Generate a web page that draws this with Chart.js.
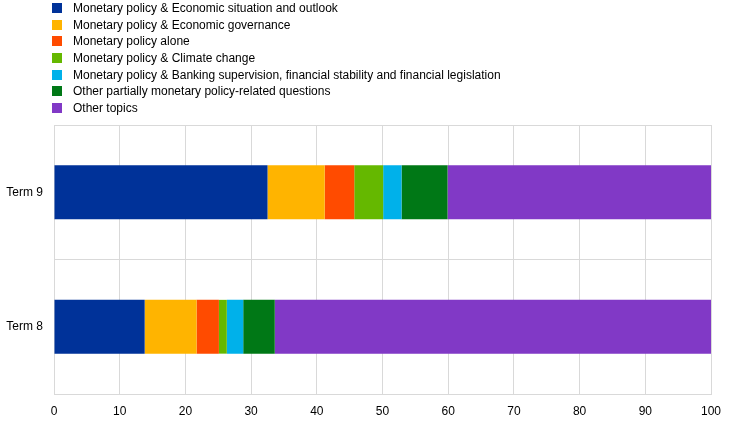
<!DOCTYPE html>
<html lang="en">
<head>
    <meta charset="UTF-8">
    <title>Topics of questions by term</title>
    <script src="https://cdn.jsdelivr.net/npm/chart.js@4/dist/chart.umd.min.js"></script>
    <style>
        body { margin: 0; background: #fff; font-family: "Liberation Sans", Arial, sans-serif; }
        #wrap { position: relative; width: 745px; height: 422px; }
        #legend { position: absolute; left: 52px; top: 0; margin: 0; padding: 0; list-style: none; font-size: 12px; color: #000; }
        #legend li { height: 16.67px; line-height: 16.67px; white-space: nowrap; position: relative; padding-left: 21px; }
        #legend span { position: absolute; left: 0; top: 3px; width: 10px; height: 10px; }
    </style>
</head>
<body>
    <div id="wrap">
        <canvas id="chart" width="745" height="422"></canvas>
        <ul id="legend"></ul>
    </div>

    <script>
        var terms = ['Term 9', 'Term 8'];
        var topics = [
            'Monetary policy & Economic situation and outlook',
            'Monetary policy & Economic governance',
            'Monetary policy alone',
            'Monetary policy & Climate change',
            'Monetary policy & Banking supervision, financial stability and financial legislation',
            'Other partially monetary policy-related questions',
            'Other topics'
        ];
        // shares in %, [Term 9, Term 8]
        var econSituation = [32.5, 13.8];
        var econGovernance = [8.7, 7.9];
        var mpAlone = [4.5, 3.4];
        var climate = [4.4, 1.2];
        var banking = [2.8, 2.5];
        var otherPartial = [7.0, 4.8];
        var otherTopics = [40.1, 66.4];
        var colors = ['#003299', '#ffb400', '#ff4b00', '#65b800', '#00b1ea', '#007816', '#8139c6'];
        var xTicks = [0, 10, 20, 30, 40, 50, 60, 70, 80, 90, 100];

        var series = [econSituation, econGovernance, mpAlone, climate, banking, otherPartial, otherTopics];
        var datasets = series.map(function (vals, i) {
            return {
                label: topics[i],
                data: vals,
                backgroundColor: colors[i],
                borderWidth: 0,
                barPercentage: 0.4,
                categoryPercentage: 1
            };
        });

        // html legend, one item per line
        var legend = document.getElementById('legend');
        topics.forEach(function (t, i) {
            var li = document.createElement('li');
            var sw = document.createElement('span');
            sw.style.background = colors[i];
            li.appendChild(sw);
            li.appendChild(document.createTextNode(t));
            legend.appendChild(li);
        });

        Chart.defaults.font.family = '"Liberation Sans", Arial, sans-serif';
        Chart.defaults.font.size = 12;
        Chart.defaults.color = '#000';

        var gridColor = '#d9d9d9';

        new Chart(document.getElementById('chart').getContext('2d'), {
            type: 'bar',
            data: { labels: terms, datasets: datasets },
            options: {
                indexAxis: 'y',
                responsive: false,
                animation: false,
                layout: { padding: { top: 125, right: 34, left: 0, bottom: 0 } },
                plugins: { legend: { display: false }, tooltip: { enabled: false } },
                scales: {
                    x: {
                        stacked: true,
                        min: 0,
                        max: 100,
                        afterBuildTicks: function (scale) {
                            scale.ticks = xTicks.map(function (v) { return { value: v }; });
                        },
                        afterFit: function (scale) { scale.height = 28; },
                        grid: { color: gridColor, drawTicks: false },
                        border: { color: gridColor },
                        ticks: { padding: 10, maxRotation: 0 }
                    },
                    y: {
                        stacked: true,
                        afterFit: function (scale) { scale.width = 54; },
                        grid: { color: gridColor, drawTicks: false, offset: true },
                        border: { color: gridColor },
                        ticks: { padding: 11 }
                    }
                }
            }
        });
    </script>
</body>
</html>
